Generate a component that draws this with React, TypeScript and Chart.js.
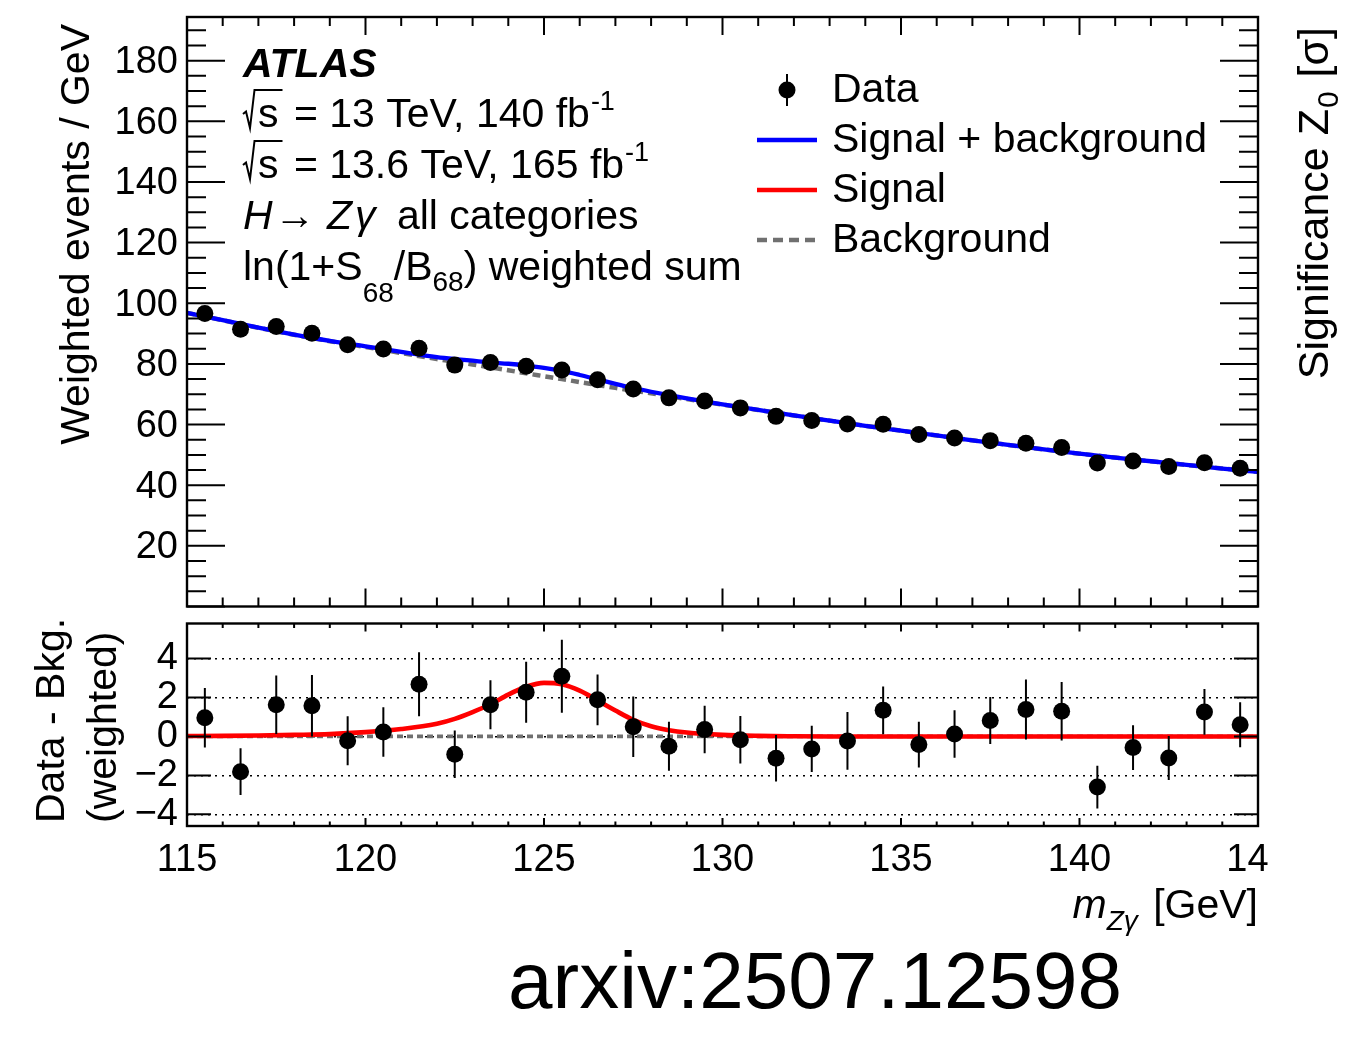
import { useEffect, useRef } from 'react';
import { Chart, registerables } from 'chart.js';

Chart.register(...registerables);

const FONT = '"Liberation Sans", Arial, Helvetica, sans-serif';
const font = (size: number, style = '') => `${style} ${size}px ${FONT}`.trim();

// 1 GeV bins of m_Zγ (bin centres)
const MASS_BINS = [
  115.5, 116.5, 117.5, 118.5, 119.5, 120.5, 121.5, 122.5, 123.5, 124.5,
  125.5, 126.5, 127.5, 128.5, 129.5, 130.5, 131.5, 132.5, 133.5, 134.5,
  135.5, 136.5, 137.5, 138.5, 139.5, 140.5, 141.5, 142.5, 143.5, 144.5,
];
// Weighted events / GeV
const WEIGHTED_EVENTS = [
  96.6, 91.4, 92.3, 90.1, 86.3, 84.9, 85.2, 79.6, 80.5, 79.2,
  78.0, 74.8, 71.7, 68.8, 67.8, 65.5, 62.7, 61.3, 60.2, 60.1,
  56.7, 55.6, 54.7, 53.8, 52.4, 47.3, 48.0, 46.2, 47.4, 45.6,
];
// Data minus background-only fit (weighted)
const DATA_MINUS_BKG = [
  0.96, -1.81, 1.63, 1.58, -0.22, 0.23, 2.68, -0.92, 1.63, 2.27,
  3.09, 1.88, 0.5, -0.5, 0.35, -0.17, -1.12, -0.64, -0.23, 1.34,
  -0.42, 0.13, 0.82, 1.38, 1.29, -2.6, -0.57, -1.11, 1.26, 0.6,
];
// Statistical uncertainty of each bin
const DATA_ERR = [
  1.53, 1.2, 1.5, 1.58, 1.26, 1.27, 1.64, 1.22, 1.26, 1.57,
  1.88, 1.3, 1.55, 1.26, 1.22, 1.22, 1.2, 1.19, 1.48, 1.23,
  1.17, 1.22, 1.21, 1.54, 1.5, 1.1, 1.15, 1.13, 1.17, 1.15,
];

// Fit curves, sampled more densely around the peak
const CURVE_MASS = [
  115, 116, 117, 118, 119, 120, 121, 122,
  122.5, 123, 123.5, 124, 124.5, 125, 125.5, 126, 126.5, 127, 127.5, 128, 128.5,
  129, 130, 131, 132, 133, 134, 135, 136, 137, 138, 139, 140, 141, 142, 143, 144, 145,
];
const BACKGROUND = [
  96.8, 94.4, 91.9, 89.6, 87.5, 85.6, 83.6, 81.6,
  80.7, 79.8, 78.85, 77.9, 76.9, 75.95, 75.0, 74.0, 73.05, 72.1, 71.2, 70.3, 69.35,
  68.4, 66.6, 64.8, 63.0, 61.3, 59.6, 58.0, 56.4, 54.8, 53.3, 51.8, 50.4, 49.1, 47.9, 46.7, 45.5, 44.4,
];
const SIGNAL = [
  0.02, 0.03, 0.05, 0.08, 0.12, 0.22, 0.38, 0.65,
  0.9, 1.25, 1.65, 2.15, 2.55, 2.75, 2.68, 2.35, 1.85, 1.33, 0.85, 0.52, 0.32,
  0.2, 0.08, 0.03, 0.01, 0, 0, 0, 0, 0, 0, 0, 0, 0, 0, 0, 0, 0,
];

const X_TICK_LABELS = ['115', '120', '125', '130', '135', '140', '145'];

const BLUE = '#0000ff';
const RED = '#ff0000';
const GREY = '#707070';

const pts = (xs: number[], ys: number[]) => xs.map((x, i) => ({ x, y: ys[i] }));
const SIGNAL_PLUS_BKG = BACKGROUND.map((b, i) => b + SIGNAL[i]);

function tickRange(min: number, max: number, step: number) {
  const out: number[] = [];
  const start = Math.ceil(min / step - 1e-9) * step;
  for (let v = start; v <= max + 1e-9; v += step) out.push(+v.toFixed(6));
  return out;
}
const isMultiple = (v: number, s: number) => Math.abs(v / s - Math.round(v / s)) < 1e-6;

// Fixed axis box sizes, without the label-overflow margins Chart.js adds
const fixSize = (w: number | null, h: number | null) => (s: any) => {
  if (w !== null) s.width = w;
  if (h !== null) s.height = h;
  s.paddingTop = 0;
  s.paddingBottom = 0;
  s.paddingLeft = 0;
  s.paddingRight = 0;
};

// Frame with inward ticks on all four sides
const rootFrame = {
  id: 'rootFrame',
  afterDraw(chart: any, _args: any, o: any) {
    const { ctx, chartArea: a } = chart;
    const sx = chart.scales.x;
    const sy = chart.scales.y;
    ctx.save();
    ctx.strokeStyle = '#000';
    ctx.lineWidth = 2;
    ctx.beginPath();
    for (const v of tickRange(sx.min, sx.max, o.xMinor)) {
      const p = sx.getPixelForValue(v);
      const L = isMultiple(v, o.xMajor) ? o.xMajorLen : o.xMinorLen;
      ctx.moveTo(p, a.bottom);
      ctx.lineTo(p, a.bottom - L);
      ctx.moveTo(p, a.top);
      ctx.lineTo(p, a.top + L);
    }
    for (const v of tickRange(sy.min, sy.max, o.yMinor)) {
      const p = sy.getPixelForValue(v);
      const L = isMultiple(v, o.yMajor) ? o.yMajorLen : o.yMinorLen;
      ctx.moveTo(a.left, p);
      ctx.lineTo(a.left + L, p);
      ctx.moveTo(a.right, p);
      ctx.lineTo(a.right - L, p);
    }
    ctx.stroke();
    ctx.lineWidth = 2.4;
    ctx.strokeRect(a.left, a.top, a.right - a.left, a.bottom - a.top);
    ctx.restore();
  },
};

// Vertical error bars on the data points
const errorBars = {
  id: 'errorBars',
  afterDatasetsDraw(chart: any, _args: any, o: any) {
    const { ctx } = chart;
    const meta = chart.getDatasetMeta(o.datasetIndex);
    const ds = chart.data.datasets[o.datasetIndex];
    const sy = chart.scales.y;
    ctx.save();
    ctx.strokeStyle = '#000';
    ctx.lineWidth = 2;
    ctx.beginPath();
    meta.data.forEach((el: any, i: number) => {
      const p = ds.data[i];
      ctx.moveTo(el.x, sy.getPixelForValue(p.y - o.errors[i]));
      ctx.lineTo(el.x, sy.getPixelForValue(p.y + o.errors[i]));
    });
    ctx.stroke();
    ctx.restore();
  },
};

// The pad ends just right of the frame: anything beyond is cut off
const padClip = {
  id: 'padClip',
  beforeDraw(chart: any, _args: any, o: any) {
    const { ctx } = chart;
    ctx.save();
    ctx.beginPath();
    ctx.rect(0, 0, o.right, chart.height);
    ctx.clip();
  },
  afterDraw(chart: any) {
    chart.ctx.restore();
  },
};

type Seg = { t: string; f: string; dy?: number; dx?: number };
function drawSegs(ctx: CanvasRenderingContext2D, segs: Seg[], x: number, y: number, align: 'left' | 'right' | 'center' = 'left') {
  let w = 0;
  for (const s of segs) {
    ctx.font = s.f;
    w += ctx.measureText(s.t).width + (s.dx ?? 0);
  }
  let cx = align === 'left' ? x : align === 'right' ? x - w : x - w / 2;
  ctx.textAlign = 'left';
  for (const s of segs) {
    ctx.font = s.f;
    cx += s.dx ?? 0;
    ctx.fillText(s.t, cx, y + (s.dy ?? 0));
    cx += ctx.measureText(s.t).width;
  }
  return w;
}

const TXT = 41;

// √s drawn as a radical with an overbar; returns the x after "s"
function drawSqrtS(ctx: CanvasRenderingContext2D, x: number, b: number) {
  ctx.font = font(TXT);
  const sw = ctx.measureText('s').width;
  ctx.save();
  ctx.lineWidth = 2;
  ctx.lineJoin = 'miter';
  ctx.beginPath();
  ctx.moveTo(x, b - 13);
  ctx.lineTo(x + 3, b - 15.5);
  ctx.lineTo(x + 7, b + 1);
  ctx.lineTo(x + 11.5, b - 37);
  ctx.lineTo(x + 16 + sw + 3, b - 37);
  ctx.stroke();
  ctx.restore();
  ctx.fillText('s', x + 15, b);
  return x + 15 + sw;
}

const upperText = {
  id: 'upperText',
  afterDraw(chart: any) {
    const ctx: CanvasRenderingContext2D = chart.ctx;
    ctx.save();
    ctx.fillStyle = '#000';
    ctx.strokeStyle = '#000';
    ctx.textBaseline = 'alphabetic';

    // axis titles
    ctx.save();
    ctx.translate(89, 24);
    ctx.rotate(-Math.PI / 2);
    ctx.font = font(TXT);
    ctx.textAlign = 'right';
    ctx.fillText('Weighted events / GeV', 0, 0);
    ctx.restore();

    ctx.save();
    ctx.translate(1328, 27);
    ctx.rotate(-Math.PI / 2);
    drawSegs(ctx, [
      { t: 'Significance Z', f: font(43) },
      { t: '0', f: font(30), dy: 10, dx: 1 },
      { t: ' [σ]', f: font(43), dx: 2 },
    ], 0, 0, 'right');
    ctx.restore();

    // ATLAS label block
    ctx.font = font(41, 'italic bold');
    ctx.textAlign = 'left';
    ctx.fillText('ATLAS', 243, 77);

    let x = drawSqrtS(ctx, 243, 127);
    drawSegs(ctx, [
      { t: ' = 13 TeV, 140 fb', f: font(TXT), dx: 4 },
      { t: '-1', f: font(27), dy: -17, dx: 1 },
    ], x, 127);
    x = drawSqrtS(ctx, 243, 178);
    drawSegs(ctx, [
      { t: ' = 13.6 TeV, 165 fb', f: font(TXT), dx: 4 },
      { t: '-1', f: font(27), dy: -17, dx: 1 },
    ], x, 178);
    drawSegs(ctx, [
      { t: 'H', f: font(TXT, 'italic') },
      { t: '→', f: font(TXT), dx: 2 },
      { t: ' ', f: font(TXT) },
      { t: 'Z', f: font(TXT, 'italic') },
      { t: 'γ', f: font(TXT, 'italic'), dx: 3 },
      { t: ' all categories', f: font(TXT), dx: 10 },
    ], 243, 229);
    drawSegs(ctx, [
      { t: 'ln(1+S', f: font(TXT) },
      { t: '68', f: font(28), dy: 22 },
      { t: '/B', f: font(TXT) },
      { t: '68', f: font(28), dy: 11 },
      { t: ') weighted sum', f: font(TXT) },
    ], 243, 280);

    // legend
    ctx.beginPath();
    ctx.arc(787, 90, 8.5, 0, Math.PI * 2);
    ctx.fill();
    ctx.lineWidth = 2;
    ctx.beginPath();
    ctx.moveTo(787, 74);
    ctx.lineTo(787, 106);
    ctx.stroke();

    const legendLine = (y: number, color: string, dash: number[]) => {
      ctx.save();
      ctx.strokeStyle = color;
      ctx.lineWidth = 4.5;
      ctx.setLineDash(dash);
      ctx.beginPath();
      ctx.moveTo(757, y);
      ctx.lineTo(817, y);
      ctx.stroke();
      ctx.restore();
    };
    legendLine(140, BLUE, []);
    legendLine(190, RED, []);
    legendLine(240, GREY, [10, 6]);

    ctx.font = font(TXT);
    ctx.textAlign = 'left';
    ctx.fillText('Data', 832, 102);
    ctx.fillText('Signal + background', 832, 152);
    ctx.fillText('Signal', 832, 202);
    ctx.fillText('Background', 832, 252);
    ctx.restore();
  },
};

const LOWER_TOP = 615;
const lowerText = {
  id: 'lowerText',
  afterDraw(chart: any) {
    const ctx: CanvasRenderingContext2D = chart.ctx;
    ctx.save();
    ctx.fillStyle = '#000';
    ctx.textBaseline = 'alphabetic';

    ctx.font = font(TXT);
    ctx.save();
    ctx.translate(64, 823 - LOWER_TOP);
    ctx.rotate(-Math.PI / 2);
    ctx.textAlign = 'left';
    ctx.fillText('Data - Bkg.', 0, 0);
    ctx.restore();
    ctx.save();
    ctx.translate(116, 823 - LOWER_TOP);
    ctx.rotate(-Math.PI / 2);
    ctx.textAlign = 'left';
    ctx.fillText('(weighted)', 0, 0);
    ctx.restore();

    drawSegs(ctx, [
      { t: 'm', f: font(TXT, 'italic') },
      { t: 'Zγ', f: font(28, 'italic'), dy: 12 },
      { t: ' [GeV]', f: font(TXT), dx: 4 },
    ], 1258, 918 - LOWER_TOP, 'right');

    ctx.font = font(80);
    ctx.textAlign = 'center';
    ctx.fillText('arxiv:2507.12598', 815, 1008 - LOWER_TOP);
    ctx.restore();
  },
};

const hiddenGrid = { display: false, drawTicks: false };
const TICK_FONT = { family: FONT, size: 38 };

export default function App() {
  const upperRef = useRef<HTMLCanvasElement>(null);
  const lowerRef = useRef<HTMLCanvasElement>(null);

  useEffect(() => {
    const upper = new Chart(upperRef.current!, {
      type: 'scatter',
      data: {
        datasets: [
          {
            label: 'Data',
            data: pts(MASS_BINS, WEIGHTED_EVENTS),
            pointRadius: 8.5,
            pointBackgroundColor: '#000',
            pointBorderWidth: 0,
            showLine: false,
          },
          {
            type: 'line',
            label: 'Signal + background',
            data: pts(CURVE_MASS, SIGNAL_PLUS_BKG),
            borderColor: BLUE,
            borderWidth: 4.3,
            pointRadius: 0,
            cubicInterpolationMode: 'monotone',
            fill: false,
          },
          {
            type: 'line',
            label: 'Background',
            data: pts(CURVE_MASS, BACKGROUND),
            borderColor: GREY,
            borderWidth: 4.5,
            borderDash: [8, 5],
            pointRadius: 0,
            cubicInterpolationMode: 'monotone',
            fill: false,
          },
        ],
      } as any,
      options: {
        responsive: false,
        animation: false,
        devicePixelRatio: 1,
        layout: { padding: { top: 17, left: 0, right: 0, bottom: 0 } },
        events: [],
        plugins: {
          legend: { display: false },
          tooltip: { enabled: false },
          rootFrame: {
            xMinor: 1, xMajor: 5, xMajorLen: 18, xMinorLen: 9,
            yMinor: 5, yMajor: 20, yMajorLen: 38, yMinorLen: 19,
          },
          errorBars: { datasetIndex: 0, errors: DATA_ERR },
        } as any,
        scales: {
          x: {
            type: 'linear', min: 115, max: 145,
            ticks: { display: false },
            grid: hiddenGrid,
            border: { display: false },
            afterFit: fixSize(null, LOWER_TOP - 608),
          },
          y: {
            type: 'linear', position: 'left', min: 0, max: 194.4,
            ticks: {
              stepSize: 20, includeBounds: false, autoSkip: false, padding: 9, labelOffset: 2,
              color: '#000', font: TICK_FONT,
              callback: (v: any) => (v === 0 ? '' : String(v)),
            },
            grid: hiddenGrid,
            border: { display: false },
            afterFit: fixSize(187, null),
          },
          y2: {
            type: 'linear', position: 'right', min: 0, max: 194.4,
            ticks: { display: false },
            grid: hiddenGrid,
            border: { display: false },
            afterFit: fixSize(98, null),
          },
        } as any,
      },
      plugins: [rootFrame, errorBars, upperText],
    });

    const lower = new Chart(lowerRef.current!, {
      type: 'scatter',
      data: {
        datasets: [
          {
            label: 'Data - Bkg.',
            data: pts(MASS_BINS, DATA_MINUS_BKG),
            pointRadius: 8.5,
            pointBackgroundColor: '#000',
            pointBorderWidth: 0,
            showLine: false,
          },
          {
            type: 'line',
            label: 'Signal',
            data: pts(CURVE_MASS, SIGNAL),
            borderColor: RED,
            borderWidth: 4.6,
            pointRadius: 0,
            cubicInterpolationMode: 'monotone',
            fill: false,
          },
          {
            type: 'line',
            label: 'Background',
            data: pts(CURVE_MASS, CURVE_MASS.map(() => 0)),
            borderColor: GREY,
            borderWidth: 3.8,
            borderDash: [6, 4],
            pointRadius: 0,
            fill: false,
          },
        ],
      } as any,
      options: {
        responsive: false,
        animation: false,
        devicePixelRatio: 1,
        layout: { padding: { top: 621 - LOWER_TOP, left: 0, right: 0, bottom: 0 } },
        events: [],
        plugins: {
          legend: { display: false },
          tooltip: { enabled: false },
          rootFrame: {
            xMinor: 1, xMajor: 5, xMajorLen: 8, xMinorLen: 4.5,
            yMinor: 2, yMajor: 2, yMajorLen: 24, yMinorLen: 24,
          },
          errorBars: { datasetIndex: 0, errors: DATA_ERR },
          padClip: { right: 1268 },
        } as any,
        scales: {
          x: {
            type: 'linear', min: 115, max: 145,
            ticks: {
              stepSize: 5, includeBounds: false, autoSkip: false, maxRotation: 0, minRotation: 0,
              padding: 12, color: '#000', font: TICK_FONT,
              callback: (_v: any, i: number) => X_TICK_LABELS[i],
            },
            grid: hiddenGrid,
            border: { display: false },
            afterFit: fixSize(null, 1037 - 826),
          },
          y: {
            type: 'linear', position: 'left', min: -4.6, max: 5.8,
            ticks: {
              stepSize: 2, includeBounds: false, autoSkip: false, padding: 9,
              color: '#000', font: TICK_FONT,
              callback: (v: any) => (v < 0 ? '\u2212' + Math.abs(v) : String(v)),
            },
            grid: { display: true, drawTicks: false, color: '#000', lineWidth: 1.6 },
            border: { display: false, dash: [2, 5] },
            afterFit: fixSize(187, null),
          },
          yr: {
            type: 'linear', position: 'right', min: -4.6, max: 5.8,
            ticks: { display: false },
            grid: hiddenGrid,
            border: { display: false },
            afterFit: fixSize(98, null),
          },
        } as any,
      },
      plugins: [rootFrame, errorBars, lowerText, padClip],
    });

    return () => {
      upper.destroy();
      lower.destroy();
    };
  }, []);

  return (
    <div style={{ position: 'fixed', left: 0, top: 0, width: 1356, height: 1037, background: '#fff' }}>
      <canvas ref={upperRef} width={1356} height={LOWER_TOP} style={{ position: 'absolute', left: 0, top: 0 }} />
      <canvas ref={lowerRef} width={1356} height={1037 - LOWER_TOP} style={{ position: 'absolute', left: 0, top: LOWER_TOP }} />
    </div>
  );
}
